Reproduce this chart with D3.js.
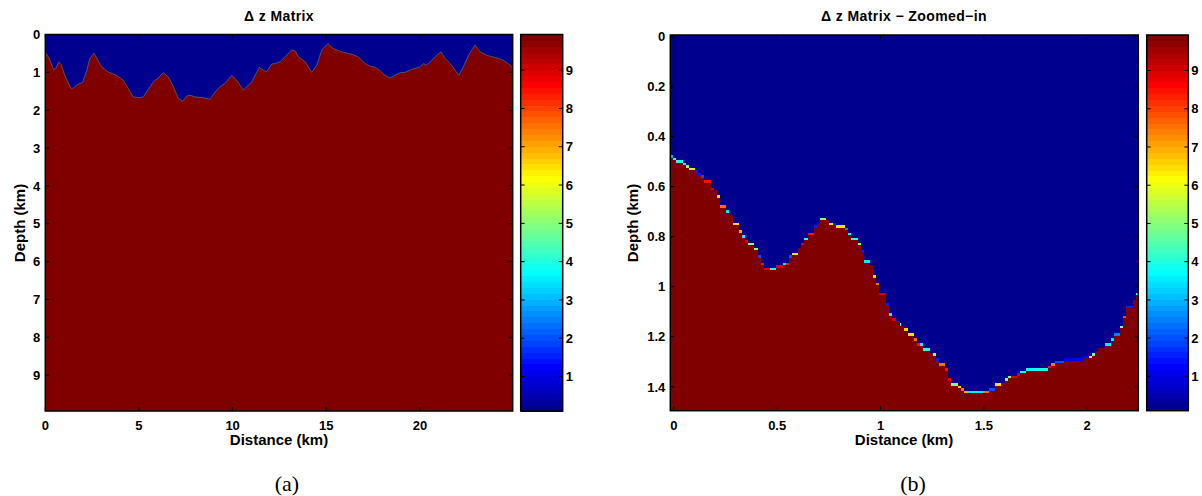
<!DOCTYPE html>
<html>
<head>
<meta charset="utf-8">
<script src="https://cdn.jsdelivr.net/npm/d3@7"></script>
<style>
  body { margin: 0; background: #fff; }
  svg text { font-family: "Liberation Sans", Arial, Helvetica, sans-serif; font-weight: bold; fill: #000; }
  svg text.cap { font-family: "Liberation Serif", "Times New Roman", serif; font-weight: normal; }
  rect.cell { shape-rendering: crispEdges; }
</style>
</head>
<body>
<svg id="chart" width="1202" height="496"></svg>
<script>
// left panel: interface depth along the full profile (km)
const fullDist = [0.00, 0.20, 0.44, 0.55, 0.72, 0.86, 1.00, 1.10, 1.36, 1.50, 1.68, 1.99, 2.21, 2.38, 2.60, 2.83,
  3.01, 3.36, 3.81, 4.16, 4.43, 4.70, 5.06, 5.23, 5.50, 5.77, 6.03, 6.30, 6.56, 6.84, 7.10, 7.34, 7.55, 7.72,
  7.99, 8.44, 8.79, 9.06, 9.33, 9.59, 9.95, 10.22, 10.57, 10.75, 11.03, 11.29, 11.43, 11.64, 11.82, 12.08,
  12.27, 12.53, 12.80, 13.15, 13.33, 13.50, 13.87, 14.22, 14.49, 14.76, 15.08, 15.37, 15.83, 16.36, 16.71,
  17.07, 17.34, 17.60, 17.87, 18.14, 18.40, 18.67, 18.93, 19.21, 19.56, 19.83, 20.00, 20.18, 20.36, 20.63,
  20.89, 21.12, 21.34, 21.61, 21.87, 22.08, 22.31, 22.59, 22.94, 23.21, 23.57, 24.01, 24.37, 24.72, 24.90, 24.95];
const fullDepth = [0.48, 0.62, 0.93, 0.90, 0.73, 0.80, 1.03, 1.14, 1.42, 1.42, 1.33, 1.27, 0.96, 0.63, 0.50, 0.70,
  0.86, 0.99, 1.08, 1.21, 1.43, 1.65, 1.67, 1.65, 1.45, 1.25, 1.15, 1.01, 1.12, 1.38, 1.69, 1.76, 1.63, 1.60,
  1.65, 1.67, 1.71, 1.52, 1.38, 1.29, 1.08, 1.21, 1.47, 1.38, 1.25, 0.99, 0.87, 0.94, 0.99, 0.78,
  0.77, 0.72, 0.59, 0.41, 0.43, 0.59, 0.72, 1.00, 0.81, 0.41, 0.24, 0.37, 0.46, 0.52, 0.59,
  0.77, 0.84, 0.86, 0.96, 1.08, 1.15, 1.08, 1.01, 1.00, 0.92, 0.88, 0.86, 0.77, 0.81, 0.68,
  0.55, 0.46, 0.63, 0.77, 0.94, 1.08, 0.86, 0.55, 0.28, 0.46, 0.55, 0.61, 0.66, 0.77, 0.86, 0.90];

// right panel: runs of grid columns -> start distance (km), top of first non-empty cell (km), its value
const runX = [-0.017, -0.002, 0.012, 0.046, 0.060, 0.075, 0.104, 0.118, 0.133, 0.146, 0.181, 0.194, 0.210, 0.225,
  0.254, 0.268, 0.286, 0.315, 0.329, 0.345, 0.360, 0.389, 0.408, 0.423, 0.437, 0.466, 0.495, 0.529, 0.543,
  0.558, 0.572, 0.601, 0.616, 0.630, 0.650, 0.679, 0.693, 0.708, 0.737, 0.751, 0.770, 0.785, 0.828, 0.843,
  0.857, 0.891, 0.906, 0.920, 0.949, 0.964, 0.978, 0.993, 1.026, 1.041, 1.055, 1.075, 1.094, 1.099, 1.113,
  1.133, 1.162, 1.176, 1.191, 1.205, 1.239, 1.254, 1.268, 1.283, 1.312, 1.326, 1.341, 1.374, 1.389, 1.403,
  1.418, 1.495, 1.524, 1.553, 1.582, 1.602, 1.616, 1.631, 1.660, 1.674, 1.703, 1.810, 1.824, 1.843, 1.887,
  1.979, 2.008, 2.022, 2.036, 2.051, 2.085, 2.114, 2.128, 2.157, 2.172, 2.186, 2.220, 2.234];
const runTop = [0.475, 0.485, 0.495, 0.505, 0.515, 0.525, 0.535, 0.545, 0.555, 0.575, 0.605, 0.615, 0.635, 0.675,
  0.695, 0.715, 0.745, 0.775, 0.795, 0.815, 0.825, 0.845, 0.875, 0.905, 0.925, 0.925, 0.915, 0.905, 0.905,
  0.875, 0.865, 0.845, 0.825, 0.805, 0.785, 0.755, 0.745, 0.725, 0.735, 0.745, 0.745, 0.755, 0.765, 0.785,
  0.805, 0.825, 0.855, 0.895, 0.915, 0.955, 0.985, 1.025, 1.065, 1.105, 1.125, 1.135, 1.145, 1.155, 1.165,
  1.185, 1.205, 1.225, 1.225, 1.245, 1.265, 1.265, 1.285, 1.305, 1.325, 1.365, 1.385, 1.395, 1.405, 1.415,
  1.415, 1.415, 1.405, 1.385, 1.385, 1.365, 1.355, 1.355, 1.345, 1.335, 1.325, 1.315, 1.305, 1.295, 1.285,
  1.275, 1.275, 1.265, 1.255, 1.245, 1.225, 1.205, 1.185, 1.155, 1.115, 1.075, 1.055, 1.025];
const runVal = [3, 4, 4, 3.5, 5, 5.5, 1.5, 1.5, 2, 8.5, 9, 10, 6.5, 7.5,
  3.5, 10, 6.5, 7, 3.5, 9, 5, 5, 2, 8.5, 9, 4, 9, 3.5, 8.5,
  2, 6.5, 10, 9, 4, 8.5, 1.5, 10, 5, 10, 6.5, 1.5, 6.5, 2.5, 3.5,
  4, 5, 1.5, 3.5, 10, 6.5, 7.5, 9, 1.5, 3.5, 9, 10, 4, 10, 6.5,
  6.5, 7.5, 8.5, 3.5, 4, 10, 5, 1.5, 7.5, 8.5, 9, 5, 6.5, 7.5, 7,
  3.5, 7.5, 2, 6.5, 10, 5, 5, 9, 9, 4, 3.8, 8.5, 7.5, 2, 1.3,
  1.3, 6.5, 5, 10, 10, 3.5, 3.5, 2.5, 5, 8, 1.5, 10, 4];

const leftXTicks = [0, 5, 10, 15, 20];
const leftYTicks = [0, 1, 2, 3, 4, 5, 6, 7, 8, 9];
const rightXTicks = [0, 0.5, 1, 1.5, 2];
const rightYTicks = [0, 0.2, 0.4, 0.6, 0.8, 1, 1.2, 1.4];
const cbarTicks = [1, 2, 3, 4, 5, 6, 7, 8, 9];
const cellDz = 0.01;

// MATLAB jet colormap
function jet(m) {
  const n = Math.ceil(m / 4);
  const u = [];
  for (let i = 1; i <= n; i++) u.push(i / n);
  for (let i = 1; i < n; i++) u.push(1);
  for (let i = n; i >= 1; i--) u.push(i / n);
  const g0 = Math.ceil(n / 2) - (m % 4 === 1 ? 1 : 0);
  const J = d3.range(m).map(() => [0, 0, 0]);
  u.forEach((val, k) => {
    const g = g0 + k + 1, r = g + n, b = g - n;
    if (r <= m) J[r - 1][0] = val;
    if (g <= m) J[g - 1][1] = val;
    if (b >= 1 && b <= m) J[b - 1][2] = val;
  });
  return J.map(c => d3.rgb(c[0] * 255, c[1] * 255, c[2] * 255).formatHex());
}
const cmap = jet(64);
const cmin = 0.1, cmax = 9.93;
const colorOf = v => cmap[Math.max(0, Math.min(63, Math.floor((v - cmin) / (cmax - cmin) * 64)))];

const svg = d3.select("#chart");
svg.append("rect").attr("width", 1202).attr("height", 496).attr("fill", "#fff");

function frame(g, x, y, xt, yt, fmtX, fmtY) {
  const [x0, x1] = x.range(), [y0, y1] = y.range(); // y0 top, y1 bottom
  const tl = 4;
  xt.forEach(t => {
    g.append("line").attr("x1", x(t)).attr("x2", x(t)).attr("y1", y1).attr("y2", y1 - tl).attr("stroke", "#000");
    g.append("line").attr("x1", x(t)).attr("x2", x(t)).attr("y1", y0).attr("y2", y0 + tl).attr("stroke", "#000");
    g.append("text").attr("x", x(t)).attr("y", y1 + 19).attr("text-anchor", "middle")
      .style("font-size", "13px").text(fmtX(t));
  });
  yt.forEach(t => {
    g.append("line").attr("x1", x0).attr("x2", x0 + tl).attr("y1", y(t)).attr("y2", y(t)).attr("stroke", "#000");
    g.append("line").attr("x1", x1).attr("x2", x1 - tl).attr("y1", y(t)).attr("y2", y(t)).attr("stroke", "#000");
    g.append("text").attr("x", x0 - 5).attr("y", y(t)).attr("dy", "0.36em").attr("text-anchor", "end")
      .style("font-size", "13px").text(fmtY(t));
  });
  g.append("rect").attr("x", x0).attr("y", y0).attr("width", x1 - x0).attr("height", y1 - y0)
    .attr("fill", "none").attr("stroke", "#000").attr("stroke-width", 1.5);
}

function colorbar(g, left, right, top, bottom) {
  const cy = d3.scaleLinear().domain([cmin, cmax]).range([bottom, top]);
  const step = (cmax - cmin) / 64;
  cmap.forEach((c, i) => {
    g.append("rect").attr("class", "cell").attr("x", left).attr("width", right - left)
      .attr("y", cy(cmin + (i + 1) * step)).attr("height", cy(cmin + i * step) - cy(cmin + (i + 1) * step) + 0.5)
      .attr("fill", c);
  });
  cbarTicks.forEach(t => {
    g.append("line").attr("x1", right).attr("x2", right - 4).attr("y1", cy(t)).attr("y2", cy(t)).attr("stroke", "#000");
    g.append("line").attr("x1", left).attr("x2", left + 4).attr("y1", cy(t)).attr("y2", cy(t)).attr("stroke", "#000");
    g.append("text").attr("x", right + 3).attr("y", cy(t)).attr("dy", "0.36em")
      .style("font-size", "13px").text(t);
  });
  g.append("rect").attr("x", left).attr("y", top).attr("width", right - left).attr("height", bottom - top)
    .attr("fill", "none").attr("stroke", "#000").attr("stroke-width", 1.5);
}

// ---------- left panel ----------
const gL = svg.append("g");
const xL = d3.scaleLinear().domain([0, 24.95]).range([45.3, 512.7]);
const yL = d3.scaleLinear().domain([0, 9.95]).range([34.5, 411]);
gL.append("rect").attr("x", 45.3).attr("y", 34.5).attr("width", 512.7 - 45.3).attr("height", 411 - 34.5)
  .attr("fill", colorOf(10));
const profile = fullDist.map((d, i) => [d, fullDepth[i]]);
gL.append("path").datum(profile)
  .attr("d", d3.area().x(d => xL(d[0])).y0(yL(0)).y1(d => yL(d[1])))
  .attr("fill", colorOf(0));
gL.append("path").datum(profile)
  .attr("d", d3.line().x(d => xL(d[0])).y(d => yL(d[1])))
  .attr("fill", "none").attr("stroke", "#4d6a78").attr("stroke-width", 0.8);
frame(gL, xL, yL, leftXTicks, leftYTicks, d => d, d => d);
colorbar(gL, 520.7, 562.7, 34.5, 411);
gL.append("text").attr("x", 279).attr("y", 20.5).attr("text-anchor", "middle")
  .style("font-size", "14px").style("letter-spacing", "0.4px").text("Δ z Matrix");
gL.append("text").attr("x", 279).attr("y", 445).attr("text-anchor", "middle").style("font-size", "15px").text("Distance (km)");
gL.append("text").attr("transform", "translate(25,223) rotate(-90)").attr("text-anchor", "middle")
  .style("font-size", "15px").text("Depth (km)");
gL.append("text").attr("class", "cap").attr("x", 287).attr("y", 491).attr("text-anchor", "middle")
  .style("font-size", "22px").text("(a)");

// ---------- right panel ----------
const gR = svg.append("g");
const xR = d3.scaleLinear().domain([-0.017, 2.247]).range([670.3, 1138.3]);
const yR = d3.scaleLinear().domain([-0.005, 1.495]).range([35, 410.7]);
gR.append("rect").attr("x", 670.3).attr("y", 35).attr("width", 1138.3 - 670.3).attr("height", 410.7 - 35)
  .attr("fill", colorOf(0));
runX.forEach((x0, i) => {
  const x1 = i < runX.length - 1 ? runX[i + 1] : 2.247;
  const v = runVal[i], top = runTop[i];
  const redTop = v >= 10 ? top : top + cellDz;
  gR.append("rect").attr("class", "cell").attr("x", xR(x0)).attr("width", xR(x1) - xR(x0))
    .attr("y", yR(redTop)).attr("height", yR(1.495) - yR(redTop)).attr("fill", colorOf(10));
  if (v < 10) {
    gR.append("rect").attr("class", "cell").attr("x", xR(x0)).attr("width", xR(x1) - xR(x0))
      .attr("y", yR(top)).attr("height", yR(top + cellDz) - yR(top)).attr("fill", colorOf(v));
  }
});
frame(gR, xR, yR, rightXTicks, rightYTicks, d => d, d => d);
colorbar(gR, 1146.7, 1188.3, 35, 410.7);
gR.append("text").attr("x", 904).attr("y", 20.5).attr("text-anchor", "middle")
  .style("font-size", "14px").style("letter-spacing", "0.4px").text("Δ z Matrix − Zoomed−in");
gR.append("text").attr("x", 904).attr("y", 445).attr("text-anchor", "middle").style("font-size", "15px").text("Distance (km)");
gR.append("text").attr("transform", "translate(638,223) rotate(-90)").attr("text-anchor", "middle")
  .style("font-size", "15px").text("Depth (km)");
gR.append("text").attr("class", "cap").attr("x", 913).attr("y", 491).attr("text-anchor", "middle")
  .style("font-size", "22px").text("(b)");
</script>
</body>
</html>
